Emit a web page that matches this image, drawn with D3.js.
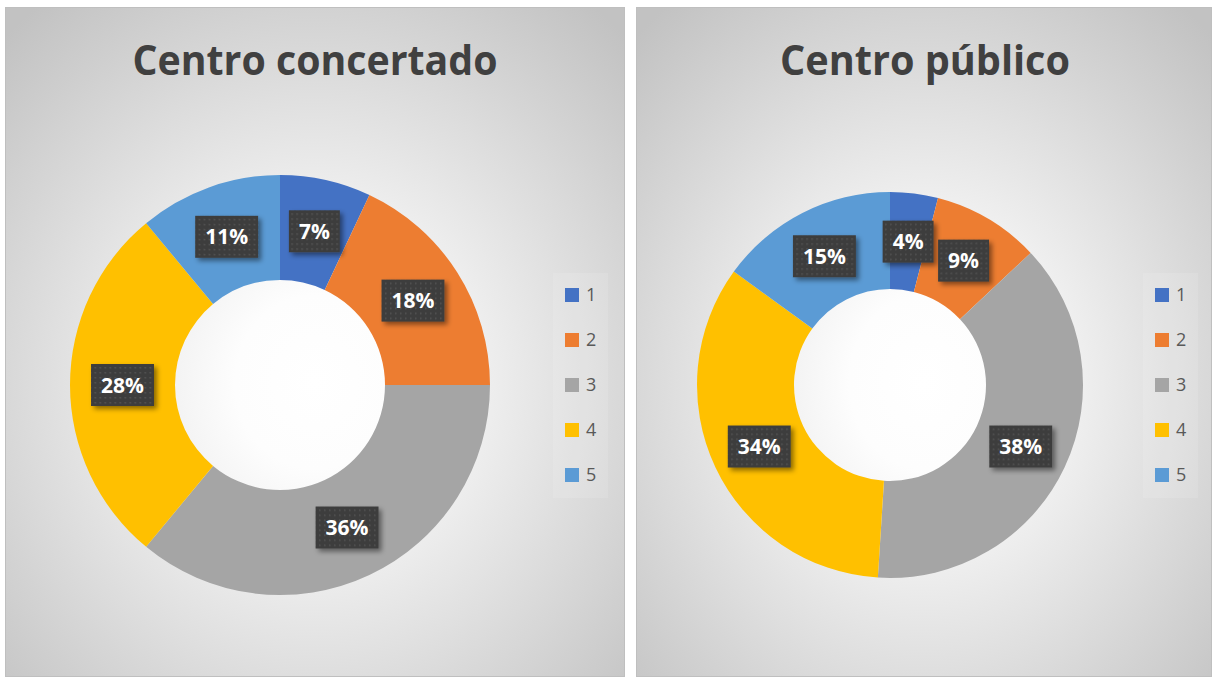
<!DOCTYPE html>
<html>
<head>
<meta charset="utf-8">
<script src="https://cdn.jsdelivr.net/npm/d3@7"></script>
<style>
  body { margin: 0; background: #ffffff; }
  svg { display: block; }
</style>
</head>
<body>
<svg id="chart" width="1212" height="677"></svg>
<script>
// data
var categories = ['1', '2', '3', '4', '5'];
var concertadoValues = [7, 18, 36, 28, 11];
var publicoValues = [4, 9, 38, 34, 15];
var chartTitles = ['Centro concertado', 'Centro público'];
var sliceColors = ['#4472C4', '#ED7D31', '#A5A5A5', '#FFC000', '#5B9BD5'];

var svg = d3.select('#chart');
var defs = svg.append('defs');

// background gradient for the panels
var grad = defs.append('radialGradient')
  .attr('id', 'panelBg')
  .attr('cx', '50%').attr('cy', '56%').attr('r', '72%');
grad.append('stop').attr('offset', '0%').attr('stop-color', '#ffffff');
grad.append('stop').attr('offset', '18%').attr('stop-color', '#fdfdfd');
grad.append('stop').attr('offset', '100%').attr('stop-color', '#c2c2c2');

// dotted texture for the label boxes
var pat = defs.append('pattern')
  .attr('id', 'dots')
  .attr('width', 5).attr('height', 5)
  .attr('patternUnits', 'userSpaceOnUse');
pat.append('rect').attr('width', 5).attr('height', 5).attr('fill', '#3d3d3d');
pat.append('rect').attr('x', 2).attr('y', 2).attr('width', 1.5).attr('height', 1.5).attr('fill', '#555555');

var shadow = defs.append('filter').attr('id', 'shadow')
  .attr('x', '-30%').attr('y', '-30%').attr('width', '170%').attr('height', '170%');
shadow.append('feDropShadow')
  .attr('dx', 3).attr('dy', 3).attr('stdDeviation', 2.5)
  .attr('flood-color', '#000').attr('flood-opacity', 0.45);

var panels = [
  { x: 5, y: 7, w: 619, h: 669, cx: 280, cy: 385, outer: 210, inner: 105,
    titleX: 315, titleW: 365, legendX: 553, values: concertadoValues, title: chartTitles[0] },
  { x: 636, y: 7, w: 575, h: 669, cx: 890, cy: 385, outer: 193, inner: 96,
    titleX: 925, titleW: 290, legendX: 1143, values: publicoValues, title: chartTitles[1] }
];

var color = d3.scaleOrdinal().domain(categories).range(sliceColors);

var pie = d3.pie()
  .sort(null)
  .value(function(d) { return d.value; });

panels.forEach(function(p) {
  var g = svg.append('g');

  g.append('rect')
    .attr('x', p.x + 0.5).attr('y', p.y + 0.5)
    .attr('width', p.w).attr('height', p.h)
    .attr('fill', 'url(#panelBg)')
    .attr('stroke', '#bfbfbf')
    .attr('stroke-width', 1);

  // title
  var t = g.append('text')
    .attr('x', p.titleX)
    .attr('y', 75)
    .attr('text-anchor', 'middle')
    .style('font-family', '"Open Sans", "DejaVu Sans", sans-serif')
    .style('font-weight', 'bold')
    .style('font-size', '41px')
    .style('fill', '#404040')
    .text(p.title);
  t.attr('textLength', p.titleW).attr('lengthAdjust', 'spacingAndGlyphs');

  var data = categories.map(function(c, i) { return { cat: c, value: p.values[i] }; });
  var arcs = pie(data);

  var arc = d3.arc()
    .innerRadius(p.inner)
    .outerRadius(p.outer);

  var donut = g.append('g')
    .attr('transform', 'translate(' + p.cx + ',' + p.cy + ')');

  donut.selectAll('path')
    .data(arcs)
    .enter().append('path')
    .attr('d', arc)
    .attr('fill', function(d) { return color(d.data.cat); });

  // data labels
  var labels = donut.selectAll('g.lbl')
    .data(arcs)
    .enter().append('g')
    .attr('class', 'lbl')
    .attr('transform', function(d) {
      var c = arc.centroid(d);
      return 'translate(' + c[0] + ',' + c[1] + ')';
    });

  labels.each(function(d) {
    var lg = d3.select(this);
    var box = lg.append('rect').attr('fill', 'url(#dots)').attr('filter', 'url(#shadow)');
    var txt = lg.append('text')
      .attr('text-anchor', 'middle')
      .attr('dy', '0.36em')
      .style('font-family', '"Open Sans", "DejaVu Sans", sans-serif')
      .style('font-weight', 'bold')
      .style('font-size', '21px')
      .style('fill', '#ffffff')
      .text(d.data.value + '%');
    var tw = txt.node().getComputedTextLength();
    var bw = tw + 20, bh = 42;
    box.attr('x', -bw / 2).attr('y', -bh / 2).attr('width', bw).attr('height', bh);
  });

  // legend
  var legY = d3.scalePoint().domain(categories).range([295, 475]);

  g.append('rect')
    .attr('x', p.legendX).attr('y', 273)
    .attr('width', 55).attr('height', 225)
    .attr('fill', '#ffffff').attr('fill-opacity', 0.12);

  var items = g.selectAll('g.leg')
    .data(categories)
    .enter().append('g')
    .attr('class', 'leg')
    .attr('transform', function(d) { return 'translate(' + (p.legendX + 12) + ',' + legY(d) + ')'; });

  items.append('rect')
    .attr('x', 0).attr('y', -7)
    .attr('width', 14).attr('height', 14)
    .attr('fill', function(d) { return color(d); });

  items.append('text')
    .attr('x', 21).attr('dy', '0.36em')
    .style('font-family', '"Open Sans", "DejaVu Sans", sans-serif')
    .style('font-size', '18px')
    .style('fill', '#595959')
    .text(function(d) { return d; });
});
</script>
</body>
</html>
